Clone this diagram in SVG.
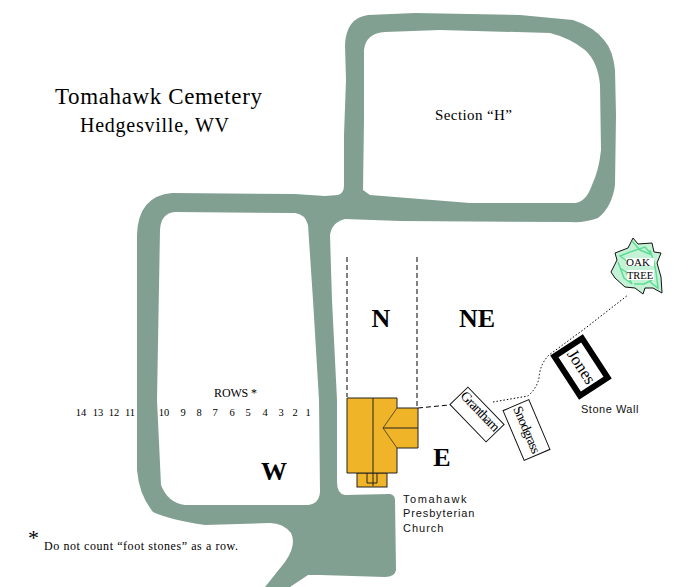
<svg xmlns="http://www.w3.org/2000/svg" width="689" height="587" viewBox="0 0 689 587">
<style>
.s{font-family:"Liberation Serif",serif;fill:#000}
.a{font-family:"Liberation Sans",sans-serif;fill:#111;font-size:11px;letter-spacing:.6px}
.r{font-family:"Liberation Serif",serif;font-size:10.500px;text-anchor:middle}
.b{font-family:"Liberation Serif",serif;font-size:26px;font-weight:bold;text-anchor:middle}
.d{fill:none;stroke:#000;stroke-width:1;stroke-dasharray:5 3}
.o{fill:none;stroke:#000;stroke-width:1;stroke-dasharray:1.500 2}
.bld{fill:#f0b428;stroke:#222;stroke-width:1}
.g{fill:#fff;stroke:#111;stroke-width:1}
.leaf{fill:none;stroke:#5fdc93;stroke-width:1.500}
</style>
<rect width="689" height="587" fill="#fff"/>
<g id="roads">
<path fill="#82a092" fill-rule="evenodd" d="M137 440L137 235Q138 196 172 193L295 194L325 196L338 195Q344 193 344 186L344 135L346 80L345 45Q346 18 368 15L415 13L520 15L573 20Q594 27 604 40Q613 50 615 70L616 115L615 185Q612 207 598 218Q585 223 570 222L400 221L345 219Q332 222 330 235L332 300L337 400L337 482Q337 494 345 495L390 494Q395 495 395 500L396 570Q395 577 385 577L320 575L308 575L290 587L265 587L285 562Q297 545 291 533Q283 523 270 523L205 525Q170 520 153 512Q139 495 137 470ZM157 400L160 230Q161 213 175 212L295 213Q305 214 308 225L313 300L319 400L320 492Q319 504 308 505L185 505Q168 503 161 485ZM364 50Q366 33 385 32L440 30L550 33Q570 38 585 50Q598 62 600 85L601 150Q599 170 592 185Q586 202 575 203L470 203L420 199L370 195L363 190L364 120Z"/>
</g>
<g id="connectors">
<path class="d" d="M347 257V397M417 257V407"/>
<path class="d" d="M418 408L449 405"/>
<path class="o" d="M493 402L528 396Q537 388 539 378Q540 364 549 355L583 330L628 295"/>
</g>
<g id="church">
<rect class="bld" x="357" y="473" width="30" height="14"/>
<path class="bld" d="M347 398H397V408H418V448H397V473H347Z"/>
<path fill="none" stroke="#222" d="M373 398V486M367 473V483H377V473"/>
<path fill="none" stroke="#222" stroke-width=".7" d="M397 408L383 428L397 448"/>
<path fill="none" stroke="#222" d="M383 428H418"/>
</g>
<g id="grantham"><g transform="translate(477 414.500) rotate(46)"><rect class="g" x="-26" y="-12.500" width="52" height="25"/><text class="s" font-size="14" text-anchor="middle" y="0" textLength="50">Grantham</text></g></g>
<g id="snodgrass"><g transform="translate(526.500 430) rotate(-23)"><rect class="g" x="-14" y="-27" width="28" height="54"/><text class="s" font-size="13.500" text-anchor="middle" transform="rotate(90)" y="4" textLength="50">Snodgrass</text></g></g>
<g id="jones"><g transform="translate(581 367) rotate(-33)"><rect x="-16.500" y="-23.500" width="33" height="47" fill="#fff" stroke="#000" stroke-width="6"/><text class="s" font-size="17" text-anchor="middle" transform="rotate(90)" y="5">Jones</text></g></g>
<g id="oak-tree">
<path fill="#c4f2d6" stroke="#111" d="M633 238L638 244L652 243L654 252L661 253L657 263L661 277L662 293L653 288L645 288L643 294L635 288L625 287L615 278L611 272L617 260L615 253L628 248Z"/>
<path class="leaf" d="M632 241L640 250L652 255L645 247L630 252L620 256L628 262M618 262L624 278L632 284L626 272L620 268M650 282L658 288L656 272L654 262L650 250M634 284L644 284L652 280"/>
<rect x="626" y="258" width="28" height="8" fill="#fff"/>
<rect x="627" y="270" width="27" height="10" fill="#fff"/>
<text class="s" font-size="11" text-anchor="middle" x="638" y="266">OAK</text>
<text class="s" font-size="10.500" text-anchor="middle" x="640" y="279">TREE</text>
</g>
<g id="labels">
<text class="s" font-size="23" x="55" y="104" textLength="207">Tomahawk Cemetery</text>
<text class="s" font-size="20" x="80" y="132" textLength="149">Hedgesville, WV</text>
<text class="s" font-size="15" x="435" y="120" textLength="77">Section “H”</text>
<text class="b" x="381" y="327">N</text>
<text class="b" x="477" y="327">NE</text>
<text class="b" x="274" y="480">W</text>
<text class="b" x="442" y="466">E</text>
<text class="s" font-size="12" x="214" y="397" textLength="43">ROWS *</text>
<text class="r" x="81" y="416">14</text><text class="r" x="98" y="416">13</text><text class="r" x="114" y="416">12</text><text class="r" x="130" y="416">11</text><text class="r" x="164" y="416">10</text><text class="r" x="183" y="416">9</text><text class="r" x="199" y="416">8</text><text class="r" x="215" y="416">7</text><text class="r" x="232" y="416">6</text><text class="r" x="248" y="416">5</text><text class="r" x="265" y="416">4</text><text class="r" x="281" y="416">3</text><text class="r" x="295" y="416">2</text><text class="r" x="308" y="416">1</text>
<text class="a" x="581" y="413" textLength="58">Stone Wall</text>
<text class="a" x="403" y="503" textLength="64">Tomahawk</text><text class="a" x="403" y="517" textLength="72">Presbyterian</text><text class="a" x="403" y="532" textLength="41">Church</text>
<text class="s" font-size="22" x="28" y="545">*</text>
<text class="s" font-size="12" x="44" y="550" textLength="194">Do not count “foot stones” as a row.</text>
</g>
</svg>
